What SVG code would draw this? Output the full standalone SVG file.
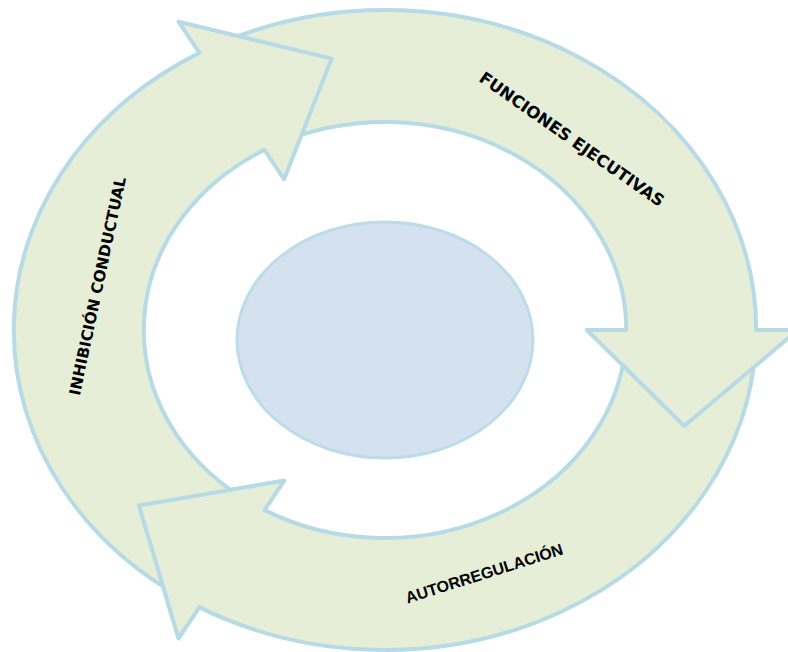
<svg xmlns="http://www.w3.org/2000/svg" xmlns:xlink="http://www.w3.org/1999/xlink" width="788" height="652" viewBox="0 0 788 652">
  <style>
    .arrow { fill: #E6EED8; stroke: #B6DBE6; stroke-width: 4; stroke-linejoin: round; }
    .hub { fill: #D4E1EE; stroke: #BCDDE7; stroke-width: 3; }
    .label { font-family: "DejaVu Sans", Verdana, sans-serif; font-weight: bold; fill: #000; }
    .label-arial { font-family: "Liberation Sans", Arial, sans-serif; font-weight: bold; fill: #000; }
  </style>
  <defs>
    <!-- wedge around the head of the lower-left arrow, so it can sit above the left arrow's tail -->
    <clipPath id="head-wedge-autorregulacion">
      <polygon points="385,330 140,783 -107,595"/>
    </clipPath>
  </defs>

  <rect width="788" height="652" fill="#FFFFFF"/>

  <!-- central hub -->
  <g id="center">
    <ellipse class="hub" cx="385" cy="340" rx="148" ry="118"/>
  </g>

  <g id="cycle">
    <g id="arrow-autorregulacion">
      <path id="shape-autorregulacion" class="arrow" d="M 755.7,346.7 A 371.2,320 0 0 1 199.4,607.1 L 178.5,638.3 L 138.9,505.5 L 284.1,480.7 L 264.4,510.1 A 241.3,208 0 0 0 626,340.9 Z"/>
      <text class="label-arial" font-size="16" transform="translate(484,573) rotate(-17.5)" text-anchor="middle" y="6">AUTORREGULACIÓN</text>
    </g>

    <g id="arrow-funciones">
      <path class="arrow" d="M 216.5,44.9 A 371.2,320 0 0 1 756.2,330 L 798,330 L 684.3,426 L 586.8,330 L 626.3,330 A 241.3,208 0 0 0 275.5,144.7 Z"/>
      <text class="label" font-size="16.5" transform="translate(572,139) rotate(35)" text-anchor="middle" y="6">FUNCIONES EJECUTIVAS</text>
    </g>

    <g id="arrow-inhibicion">
      <path class="arrow" d="M 182.8,598.4 A 371.2,320 0 0 1 199.4,52.9 L 178.5,21.7 L 331.7,58.6 L 284.1,179.3 L 264.4,149.9 A 241.3,208 0 0 0 253.6,504.4 Z"/>
      <text class="label" font-size="15.5" transform="translate(97,286) rotate(-78)" text-anchor="middle" y="6">INHIBICIÓN CONDUCTUAL</text>
    </g>

    <!-- head of the lower-left arrow drawn again on top of the left arrow's tail -->
    <use xlink:href="#shape-autorregulacion" clip-path="url(#head-wedge-autorregulacion)"/>
  </g>
</svg>
